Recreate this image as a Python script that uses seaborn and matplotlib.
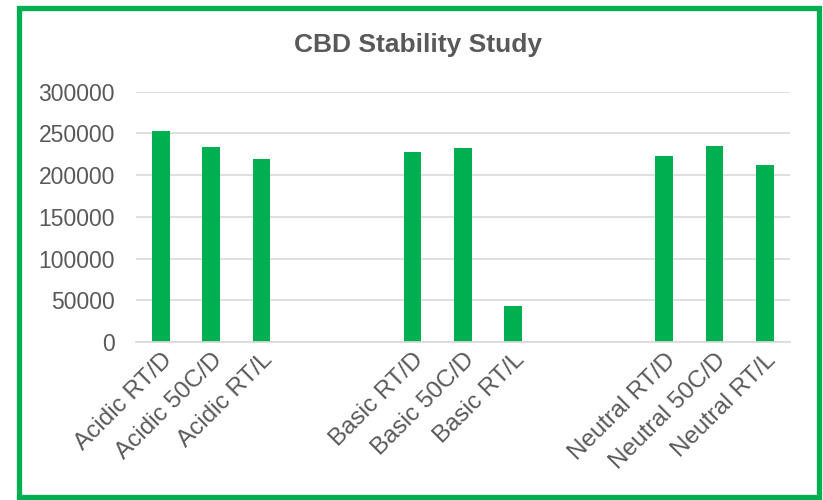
import matplotlib
matplotlib.use("Agg")
import matplotlib.pyplot as plt
from matplotlib.patches import Rectangle
import seaborn as sns
import pandas as pd

# Sample conditions and measured CBD peak areas
samples = ["Acidic RT/D", "Acidic 50C/D", "Acidic RT/L",
           "Basic RT/D", "Basic 50C/D", "Basic RT/L",
           "Neutral RT/D", "Neutral 50C/D", "Neutral RT/L"]
areas = [253000, 234000, 219500,
         227500, 232000, 43000,
         222500, 235500, 212500]

# Category order with two empty slots between each condition group
order = ["Acidic RT/D", "Acidic 50C/D", "Acidic RT/L", " ", "  ",
         "Basic RT/D", "Basic 50C/D", "Basic RT/L", "   ", "    ",
         "Neutral RT/D", "Neutral 50C/D", "Neutral RT/L"]

y_ticks = [0, 50000, 100000, 150000, 200000, 250000, 300000]
title = "CBD Stability Study"

GREEN = "#00B050"
TEXT = "#595959"
GRID = "#D9D9D9"

sns.set_theme(style="white")
plt.rcParams["font.family"] = ["Liberation Sans", "DejaVu Sans"]

df = pd.DataFrame({"sample": samples, "area": areas})

fig = plt.figure(figsize=(8.23, 5.0), dpi=100)
ax = fig.add_axes([0.165, 0.316, 0.795, 0.5006])

sns.barplot(data=df, x="sample", y="area", order=order, color=GREEN,
            width=0.35, saturation=1, edgecolor="none", ax=ax)

ax.set_ylim(0, 300000)
ax.set_xlim(-0.5, len(order) - 0.5)
ax.set_yticks(y_ticks)
ax.set_yticklabels([str(v) for v in y_ticks])
ax.yaxis.grid(True, color=GRID, linewidth=1.2)
ax.set_axisbelow(True)
for side in ["top", "right", "left"]:
    ax.spines[side].set_visible(False)
ax.spines["bottom"].set_color(GRID)
ax.spines["bottom"].set_linewidth(1.2)

ax.set_xlabel("")
ax.set_ylabel("")
ax.tick_params(axis="y", length=0, pad=15, labelsize=16.5, labelcolor=TEXT)
ax.tick_params(axis="x", length=0, pad=5, labelsize=17.5, labelcolor=TEXT)
for lbl in ax.get_xticklabels():
    lbl.set_rotation(45)
    lbl.set_ha("right")
    lbl.set_va("top")
    lbl.set_rotation_mode("anchor")

fig.text(0.508, 0.91, title, ha="center", va="center",
         fontsize=19, fontweight="bold", color=TEXT)

# Chart-area frame
fig.patches.append(Rectangle((19 / 823, 3 / 500), 800 / 823, 489 / 500,
                             transform=fig.transFigure, fill=False,
                             edgecolor=GREEN, linewidth=3.8))

fig.savefig("out.png", dpi=100)
